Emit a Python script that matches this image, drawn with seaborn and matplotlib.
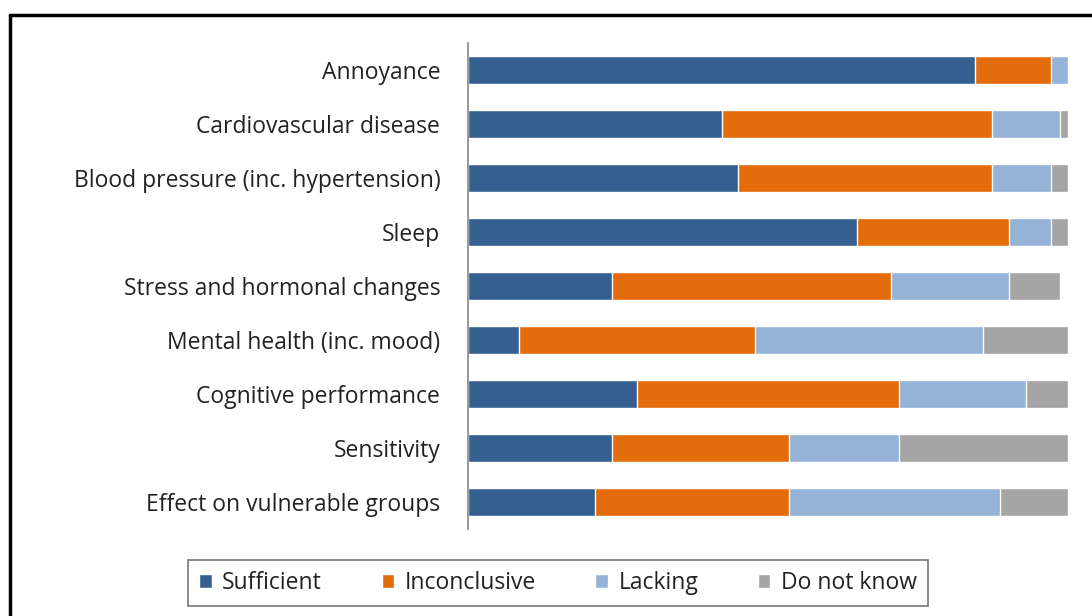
import seaborn as sns
import pandas as pd
import numpy as np
import matplotlib.pyplot as plt
from matplotlib.lines import Line2D

# Dados (número de respostas, total de 71)
categorias = ["Annoyance", "Cardiovascular disease", "Blood pressure (inc. hypertension)",
              "Sleep", "Stress and hormonal changes", "Mental health (inc. mood)",
              "Cognitive performance", "Sensitivity", "Effect on vulnerable groups"]
sufficient = [60, 30, 32, 46, 17, 6, 20, 17, 15]
inconclusive = [9, 32, 30, 18, 33, 28, 31, 21, 23]
lacking = [2, 8, 7, 5, 14, 27, 15, 13, 25]
nao_sei = [0, 1, 2, 2, 6, 10, 5, 20, 8]

series = ["Sufficient", "Inconclusive", "Lacking", "Do not know"]
cores = ["#365F91", "#E46C0A", "#95B3D7", "#A5A5A5"]

df = pd.DataFrame({"Categoria": categorias, "Sufficient": sufficient,
                   "Inconclusive": inconclusive, "Lacking": lacking,
                   "Do not know": nao_sei})
acumulado = df[series].cumsum(axis=1)

sns.set_style("white")
plt.rcParams['font.family'] = ['Open Sans', 'DejaVu Sans']

fig = plt.figure(figsize=(10.92, 6.16), dpi=100)
ax = fig.add_axes([0.4286, 0.1412, 0.5494, 0.7888])

# barras empilhadas: desenha do total para o início
for nome, cor in reversed(list(zip(series, cores))):
    sns.barplot(x=acumulado[nome], y=df["Categoria"], color=cor, orient="h",
                width=0.52, ax=ax, label=nome, saturation=1)

ax.set_xlim(0, 71)
ax.set_xlabel("")
ax.set_ylabel("")
ax.set_xticks([])
for lado in ["top", "right", "bottom"]:
    ax.spines[lado].set_visible(False)
ax.spines["left"].set_color("#868686")
ax.spines["left"].set_linewidth(1.2)
ax.tick_params(axis="y", length=0, pad=20, labelsize=16.5, labelcolor="#222222")

handles, labels = ax.get_legend_handles_labels()
if ax.get_legend() is not None:
    ax.get_legend().remove()
ordem = [labels.index(s) for s in series]
leg = fig.legend([handles[i] for i in ordem], series, loc="center",
                 bbox_to_anchor=(0.511, 0.0536), ncol=4, frameon=True,
                 fancybox=False, fontsize=16.5, handlelength=0.55, handleheight=0.55,
                 columnspacing=2.6, handletextpad=0.45, borderpad=0.5, borderaxespad=0)
leg.get_frame().set_edgecolor("#555555")
leg.get_frame().set_linewidth(1.2)
for t in leg.get_texts():
    t.set_color("#222222")

# moldura da figura (só topo e esquerda visíveis)
fig.add_artist(Line2D([10 / 1092, 10 / 1092], [0, 1 - 15 / 616], transform=fig.transFigure,
                      color="black", linewidth=2.5))
fig.add_artist(Line2D([10 / 1092, 1], [1 - 15 / 616, 1 - 15 / 616], transform=fig.transFigure,
                      color="black", linewidth=2.5))

plt.savefig("out.png", dpi=100)
